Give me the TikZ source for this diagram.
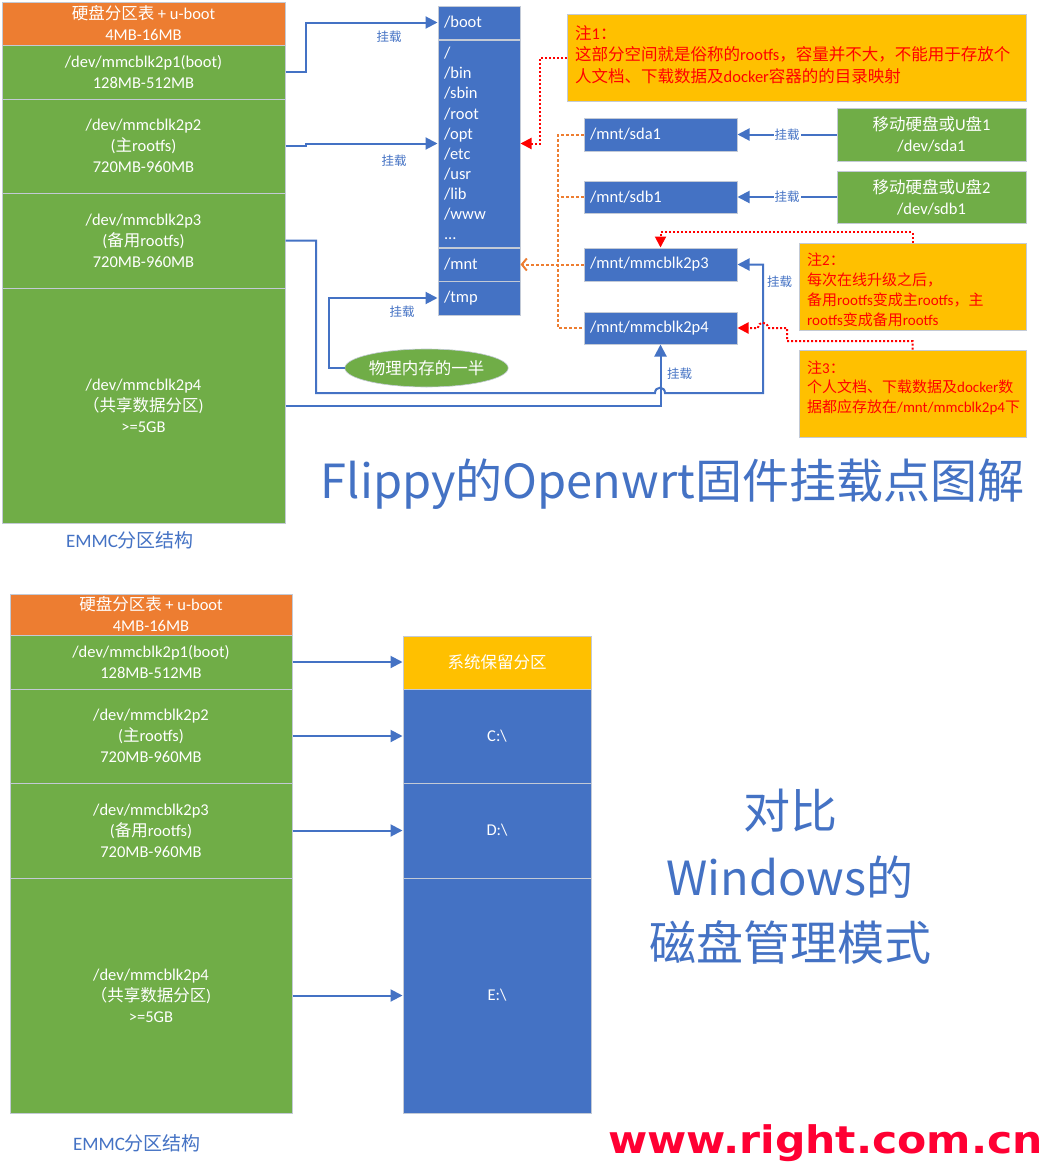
\documentclass[tikz,border=0pt]{standalone}
\usepackage{fontspec}
\usepackage{graphicx}
\setmainfont{Carlito}
\newfontfamily\cjk{Noto Sans CJK SC}
\newfontfamily\wmfont{DejaVu Sans}
\usetikzlibrary{shapes.geometric,arrows.meta,calc}
\definecolor{cgreen}{HTML}{70AD47}
\definecolor{corange}{HTML}{ED7D31}
\definecolor{cblue}{HTML}{4472C4}
\definecolor{cyellow}{HTML}{FFC000}
\definecolor{cborder}{HTML}{C3CAD6}
\definecolor{cwm}{HTML}{FF0033}
\newcommand\zh[1]{{\cjk #1}}
\begin{document}
\begin{tikzpicture}[x=1pt,y=-1pt,
  txt/.style={font=\fontsize{16.5}{21}\selectfont, text=white},
  part/.style={draw=cborder, line width=1pt, fill=cgreen, inner sep=0pt, align=center, txt},
  hdrbox/.style={part, fill=corange},
  midbox/.style={draw=cborder, line width=1pt, fill=cblue, inner xsep=6pt, inner ysep=0pt, text width=70pt, minimum width=82pt, align=left, txt},
  mntbox/.style={midbox, text width=141pt, minimum width=153pt},
  notebox/.style={draw=cborder, line width=1pt, fill=cyellow},
  notetxt/.style={anchor=west, inner sep=0pt, align=left, text=red},
  lab/.style={font={\cjk\fontsize{12.5}{15}\selectfont}, text=cblue, inner sep=1pt},
  conn/.style={draw=cblue, line width=2pt},
  arr/.style={conn, -{Triangle[length=12pt,width=12pt]}},
  odash/.style={draw=corange, line width=2pt, dash pattern=on 3pt off 2pt},
  rdot/.style={draw=red, line width=2pt, dash pattern=on 2pt off 2pt},
  rtip/.style={-{Triangle[length=11pt,width=11pt]}},
  emmc/.style={font=\fontsize{19}{22}\selectfont, text=cblue},
  big/.style={font={\cjk\fontsize{47}{56}\selectfont}, text=cblue, inner sep=0pt}
]
\fill[white] (0,0) rectangle (1048,1167);
\useasboundingbox (0,0) rectangle (1048,1167);

% ===== top: left column =====
\node[hdrbox, minimum width=283pt, minimum height=43pt] (hdr) at (143.5,23.5) {\zh{硬盘分区表} + u-boot\\4MB-16MB};
\node[part, minimum width=283pt, minimum height=54pt] (p1) at (143.5,72) {/dev/mmcblk2p1(boot)\\128MB-512MB};
\node[part, minimum width=283pt, minimum height=94pt] (p2) at (143.5,146) {/dev/mmcblk2p2\\(\zh{主}rootfs)\\720MB-960MB};
\node[part, minimum width=283pt, minimum height=95pt] (p3) at (143.5,240.5) {/dev/mmcblk2p3\\(\zh{备用}rootfs)\\720MB-960MB};
\node[part, minimum width=283pt, minimum height=235pt] (p4) at (143.5,405.5) {/dev/mmcblk2p4\\ \zh{（共享数据分区})\\ >=5GB};
\node[emmc] (emmc1) at (130,540) {EMMC\zh{分区结构}};

% ===== top: middle column =====
\node[midbox, minimum height=33pt] (boot) at (479,22.5) {/boot};
\node[midbox, minimum height=207pt, font=\fontsize{16.5}{20.1}\selectfont] (rootblk) at (479,143.5) {/\\/bin\\/sbin\\/root\\/opt\\/etc\\/usr\\/lib\\/www\\...};
\node[midbox, minimum height=33pt] (mnt) at (479,264.5) {/mnt};
\node[midbox, minimum height=34pt] (tmp) at (479,298) {/tmp};

\node[ellipse, fill=cgreen, draw=cborder, line width=0.6pt, minimum width=153pt, minimum height=38pt, inner sep=0pt, txt] (half) at (426.5,368) {\zh{物理内存的一半}};

% ===== top: mount boxes =====
\node[mntbox, minimum height=33pt] (sda1) at (660.5,134.5) {/mnt/sda1};
\node[mntbox, minimum height=32pt] (sdb1) at (660.5,197) {/mnt/sdb1};
\node[mntbox, minimum height=33pt] (mmc3) at (660.5,264.5) {/mnt/mmcblk2p3};
\node[mntbox, minimum height=32pt] (mmc4) at (660.5,328) {/mnt/mmcblk2p4};

\node[part, minimum width=189pt, minimum height=53pt] (usb1) at (931.5,134.5) {\zh{移动硬盘或}U\zh{盘}1\\/dev/sda1};
\node[part, minimum width=189pt, minimum height=52pt] (usb2) at (931.5,197) {\zh{移动硬盘或}U\zh{盘}2\\/dev/sdb1};

% ===== notes =====
\node[notebox, minimum width=459pt, minimum height=87pt] (note1) at (796.5,57.5) {};
\node[notetxt, font=\fontsize{16.5}{21.5}\selectfont] (note1t) at (575,54.5)
  {\zh{注}1\zh{：}\\\zh{这部分空间就是俗称的}rootfs\zh{，容量并不大，不能用于存放个}\\\zh{人文档、下载数据及}docker\zh{容器的的目录映射}};
\node[notebox, minimum width=227pt, minimum height=87pt] (note2) at (912.5,286.5) {};
\node[notetxt, font=\fontsize{15}{20}\selectfont] (note2t) at (807,290)
  {\zh{注}2\zh{：}\\\zh{每次在线升级之后，}\\\zh{备用}rootfs\zh{变成主}rootfs\zh{，主}\\rootfs\zh{变成备用}rootfs};
\node[notebox, minimum width=227pt, minimum height=87pt] (note3) at (912.5,393.5) {};
\node[notetxt, font=\fontsize{15}{19.5}\selectfont] (note3t) at (807,387.5)
  {\zh{注}3\zh{：}\\\zh{个人文档、下载数据及}docker\zh{数}\\\zh{据都应存放在}/mnt/mmcblk2p4\zh{下}};

% ===== connectors (top) =====
\draw[arr] (p1.east) -- ++(20,0) |- (boot.west);
\node[lab] (l1) at (389,37) {挂载};
\draw[arr] (p2.east) -- ++(20,0) |- (rootblk.west);
\node[lab] (l2) at (394,161) {挂载};
\draw[arr] (p4.east) -| (mmc4.south);
\node[lab] (l4) at (679.5,374) {挂载};
\draw[arr] (p3.east) -| (316,393) -- (655,393) .. controls (655,386) and (665,386) .. (665,393) -- (763,393) |- (mmc3.east);
\node[lab] (l3) at (779.5,282) {挂载};
\draw[arr] (half.west) -- (329,368) |- (tmp.west);
\node[lab] (l5) at (402,312) {挂载};
\draw[arr] (usb1.west) -- node[lab, fill=white] (l6) {挂载} (sda1.east);
\draw[arr] (usb2.west) -- node[lab, fill=white] (l7) {挂载} (sdb1.east);

\draw[odash] (sda1.west) -| (558,328) -- (mmc4.west);
\draw[odash] (sdb1.west) -- (558,197);
\draw[odash, -{Straight Barb[length=5pt,width=12pt]}] (mmc3.west) -- (mnt.east);

\draw[rdot, rtip] (note1.west) -- (540,57.5) |- (rootblk.east);
\draw[rdot, rtip] (note2.north) -- (912.5,232) -| (mmc3.north);
\draw[rdot, rtip] (note3.north) -- (912.5,341) -- (787,341) -- (787,328) -- (768,328) .. controls (768,321) and (758,321) .. (758,328) -- (mmc4.east);

\node[big, anchor=base] (title) at (672.5,498) {Flippy的Openwrt固件挂载点图解};

% ===== bottom =====
\node[hdrbox, minimum width=282pt, minimum height=41pt] (hdrB) at (151,614.5) {\zh{硬盘分区表} + u-boot\\4MB-16MB};
\node[part, minimum width=282pt, minimum height=54pt] (q1) at (151,662) {/dev/mmcblk2p1(boot)\\128MB-512MB};
\node[part, minimum width=282pt, minimum height=94pt] (q2) at (151,736) {/dev/mmcblk2p2\\(\zh{主}rootfs)\\720MB-960MB};
\node[part, minimum width=282pt, minimum height=95pt] (q3) at (151,830.5) {/dev/mmcblk2p3\\(\zh{备用}rootfs)\\720MB-960MB};
\node[part, minimum width=282pt, minimum height=235pt] (q4) at (151,995.5) {/dev/mmcblk2p4\\ \zh{（共享数据分区})\\ >=5GB};
\node[emmc] (emmc2) at (137,1143) {EMMC\zh{分区结构}};

\node[part, fill=cyellow, minimum width=188pt, minimum height=53pt] (w0) at (497,662.5) {\zh{系统保留分区}};
\node[part, fill=cblue, minimum width=188pt, minimum height=94pt] (wc) at (497,736) {C:\textbackslash};
\node[part, fill=cblue, minimum width=188pt, minimum height=95pt] (wd) at (497,830.5) {D:\textbackslash};
\node[part, fill=cblue, minimum width=188pt, minimum height=235pt] (we) at (497,995.5) {E:\textbackslash};

\draw[arr] (q1.east) -- (q1.east -| w0.west);
\draw[arr] (q2.east) -- (q2.east -| wc.west);
\draw[arr] (q3.east) -- (q3.east -| wd.west);
\draw[arr] (q4.east) -- (q4.east -| we.west);

\node[big, anchor=base] (cmp1) at (790,828) {对比};
\node[big, anchor=base] (cmp2) at (790,895) {Windows的};
\node[big, anchor=base] (cmp3) at (790,960) {磁盘管理模式};

\node[anchor=base, text=cwm, inner sep=0pt] (wm) at (825.5,1153) {\scalebox{1.12}[1]{\wmfont\bfseries\fontsize{38}{40}\selectfont www.right.com.cn}};
\end{tikzpicture}
\end{document}
